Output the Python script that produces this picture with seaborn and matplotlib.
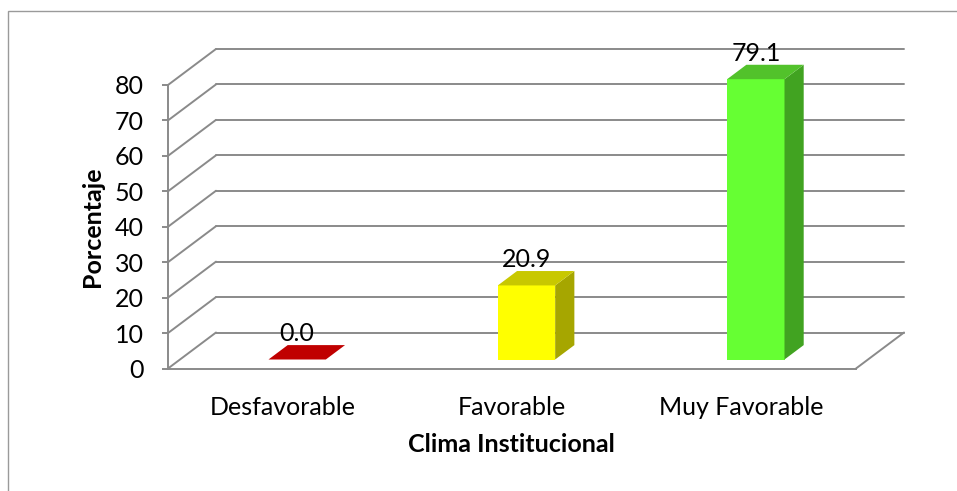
import numpy as np
import pandas as pd
import seaborn as sns
import matplotlib.pyplot as plt
from matplotlib.patches import Polygon, Rectangle
from matplotlib.lines import Line2D

# Datos del gráfico
categorias = ["Desfavorable", "Favorable", "Muy Favorable"]
porcentajes = [0.0, 20.9, 79.1]
color_frente = ["#C00000", "#FFFF00", "#66FF33"]
color_tapa = ["#C00000", "#C8C800", "#52C22B"]
color_lado = ["#A80000", "#A6A600", "#41A321"]
ticks_y = list(range(0, 90, 10))

sns.set_theme(style="white")
plt.rcParams["font.family"] = ["Lato", "DejaVu Sans"]

W, H, DPI = 957, 491, 100
fig = plt.figure(figsize=(W / DPI, H / DPI), dpi=DPI)

# Plano frontal del gráfico en píxeles
x_izq, y_base = 168, 368.5
ancho_px = 688
px_por_unidad = 3.544
y_max = 90
ax = fig.add_axes([x_izq / W, (H - y_base) / H, ancho_px / W, y_max * px_por_unidad / H])

# Vector de profundidad (pared de fondo) en unidades de datos
DX = 48 * 3 / ancho_px
DY = 36 / px_por_unidad
despl_x = 14.5 * 3 / ancho_px   # desplazamiento de las barras hacia el fondo
despl_y = 9 / px_por_unidad
prof = 0.40                      # grosor de las barras en profundidad

gris = "#8A8A8A"
lw = 1.4

df = pd.DataFrame({"categoria": categorias, "porcentaje": porcentajes})
sns.barplot(data=df, x="categoria", y="porcentaje", hue="categoria",
            palette=color_frente, legend=False, width=0.25, saturation=1,
            ax=ax, zorder=3)

ax.set_xlim(-0.5, 2.5)
ax.set_ylim(0, y_max)

# Pared de fondo y líneas de cuadrícula en perspectiva
for t in ticks_y:
    ax.add_line(Line2D([-0.5 + DX, 2.5 + DX], [t + DY, t + DY], color=gris,
                       lw=lw, clip_on=False, zorder=1))
    ax.add_line(Line2D([-0.5, -0.5 + DX], [t, t + DY], color=gris,
                       lw=lw, clip_on=False, zorder=1))
ax.add_line(Line2D([2.5, 2.5 + DX], [0, DY], color=gris, lw=lw,
                   clip_on=False, zorder=1))

# Barras con cara superior y lateral
for i, p in enumerate(ax.patches[:len(categorias)]):
    x = p.get_x() + despl_x
    w = p.get_width()
    v = p.get_height()
    yb = despl_y
    yt = yb + v
    p.set_x(x)
    p.set_y(yb)
    p.set_edgecolor("none")
    p.set_clip_on(False)
    bx, by = prof * DX, prof * DY
    if v > 0:
        lado = Polygon([(x + w, yb), (x + w, yt), (x + w + bx, yt + by), (x + w + bx, yb + by)],
                       closed=True, facecolor=color_lado[i], edgecolor="none",
                       clip_on=False, zorder=3)
        ax.add_patch(lado)
    tapa = Polygon([(x, yt), (x + w, yt), (x + w + bx, yt + by), (x + bx, yt + by)],
                   closed=True, facecolor=color_tapa[i], edgecolor="none",
                   clip_on=False, zorder=4)
    ax.add_patch(tapa)
    ax.annotate(f"{v:.1f}", xy=(x + w / 2, yt + by), xytext=(0, 3),
                textcoords="offset points", ha="center", va="baseline",
                fontsize=18, color="black", zorder=5, annotation_clip=False)

# Ejes
for s in ["top", "right"]:
    ax.spines[s].set_visible(False)
ax.spines["left"].set_bounds(0, 80)
ax.spines["left"].set_color(gris)
ax.spines["left"].set_linewidth(lw)
ax.spines["bottom"].set_color(gris)
ax.spines["bottom"].set_linewidth(lw)
ax.spines["left"].set_zorder(2)

ax.set_yticks(ticks_y)
ax.set_yticklabels([str(t) for t in ticks_y])
ax.tick_params(axis="y", left=True, length=4.5, width=lw, color=gris,
               pad=13, labelsize=18, labelcolor="black")
ax.tick_params(axis="x", bottom=False, length=0, pad=20, labelsize=18,
               labelcolor="black")

ax.set_xlabel("Clima Institucional", fontsize=18, fontweight="bold", color="black")
ax.set_ylabel("Porcentaje", fontsize=18, fontweight="bold", color="black")
ax.xaxis.set_label_coords((511 - x_izq) / ancho_px, (y_base - 445) / (y_max * px_por_unidad))
ax.xaxis.label.set_va("center")
ax.yaxis.set_label_coords((93 - x_izq) / ancho_px, (y_base - 227) / (y_max * px_por_unidad))
ax.yaxis.label.set_va("center")
ax.patch.set_alpha(0)

# Marco del área del gráfico
fig.add_artist(Rectangle((8 / W, -0.1), 1.2, (H - 11) / H + 0.1, transform=fig.transFigure,
                         fill=False, edgecolor="#9A9A9A", lw=1.0))

fig.savefig("out.png", dpi=DPI, facecolor="white")
